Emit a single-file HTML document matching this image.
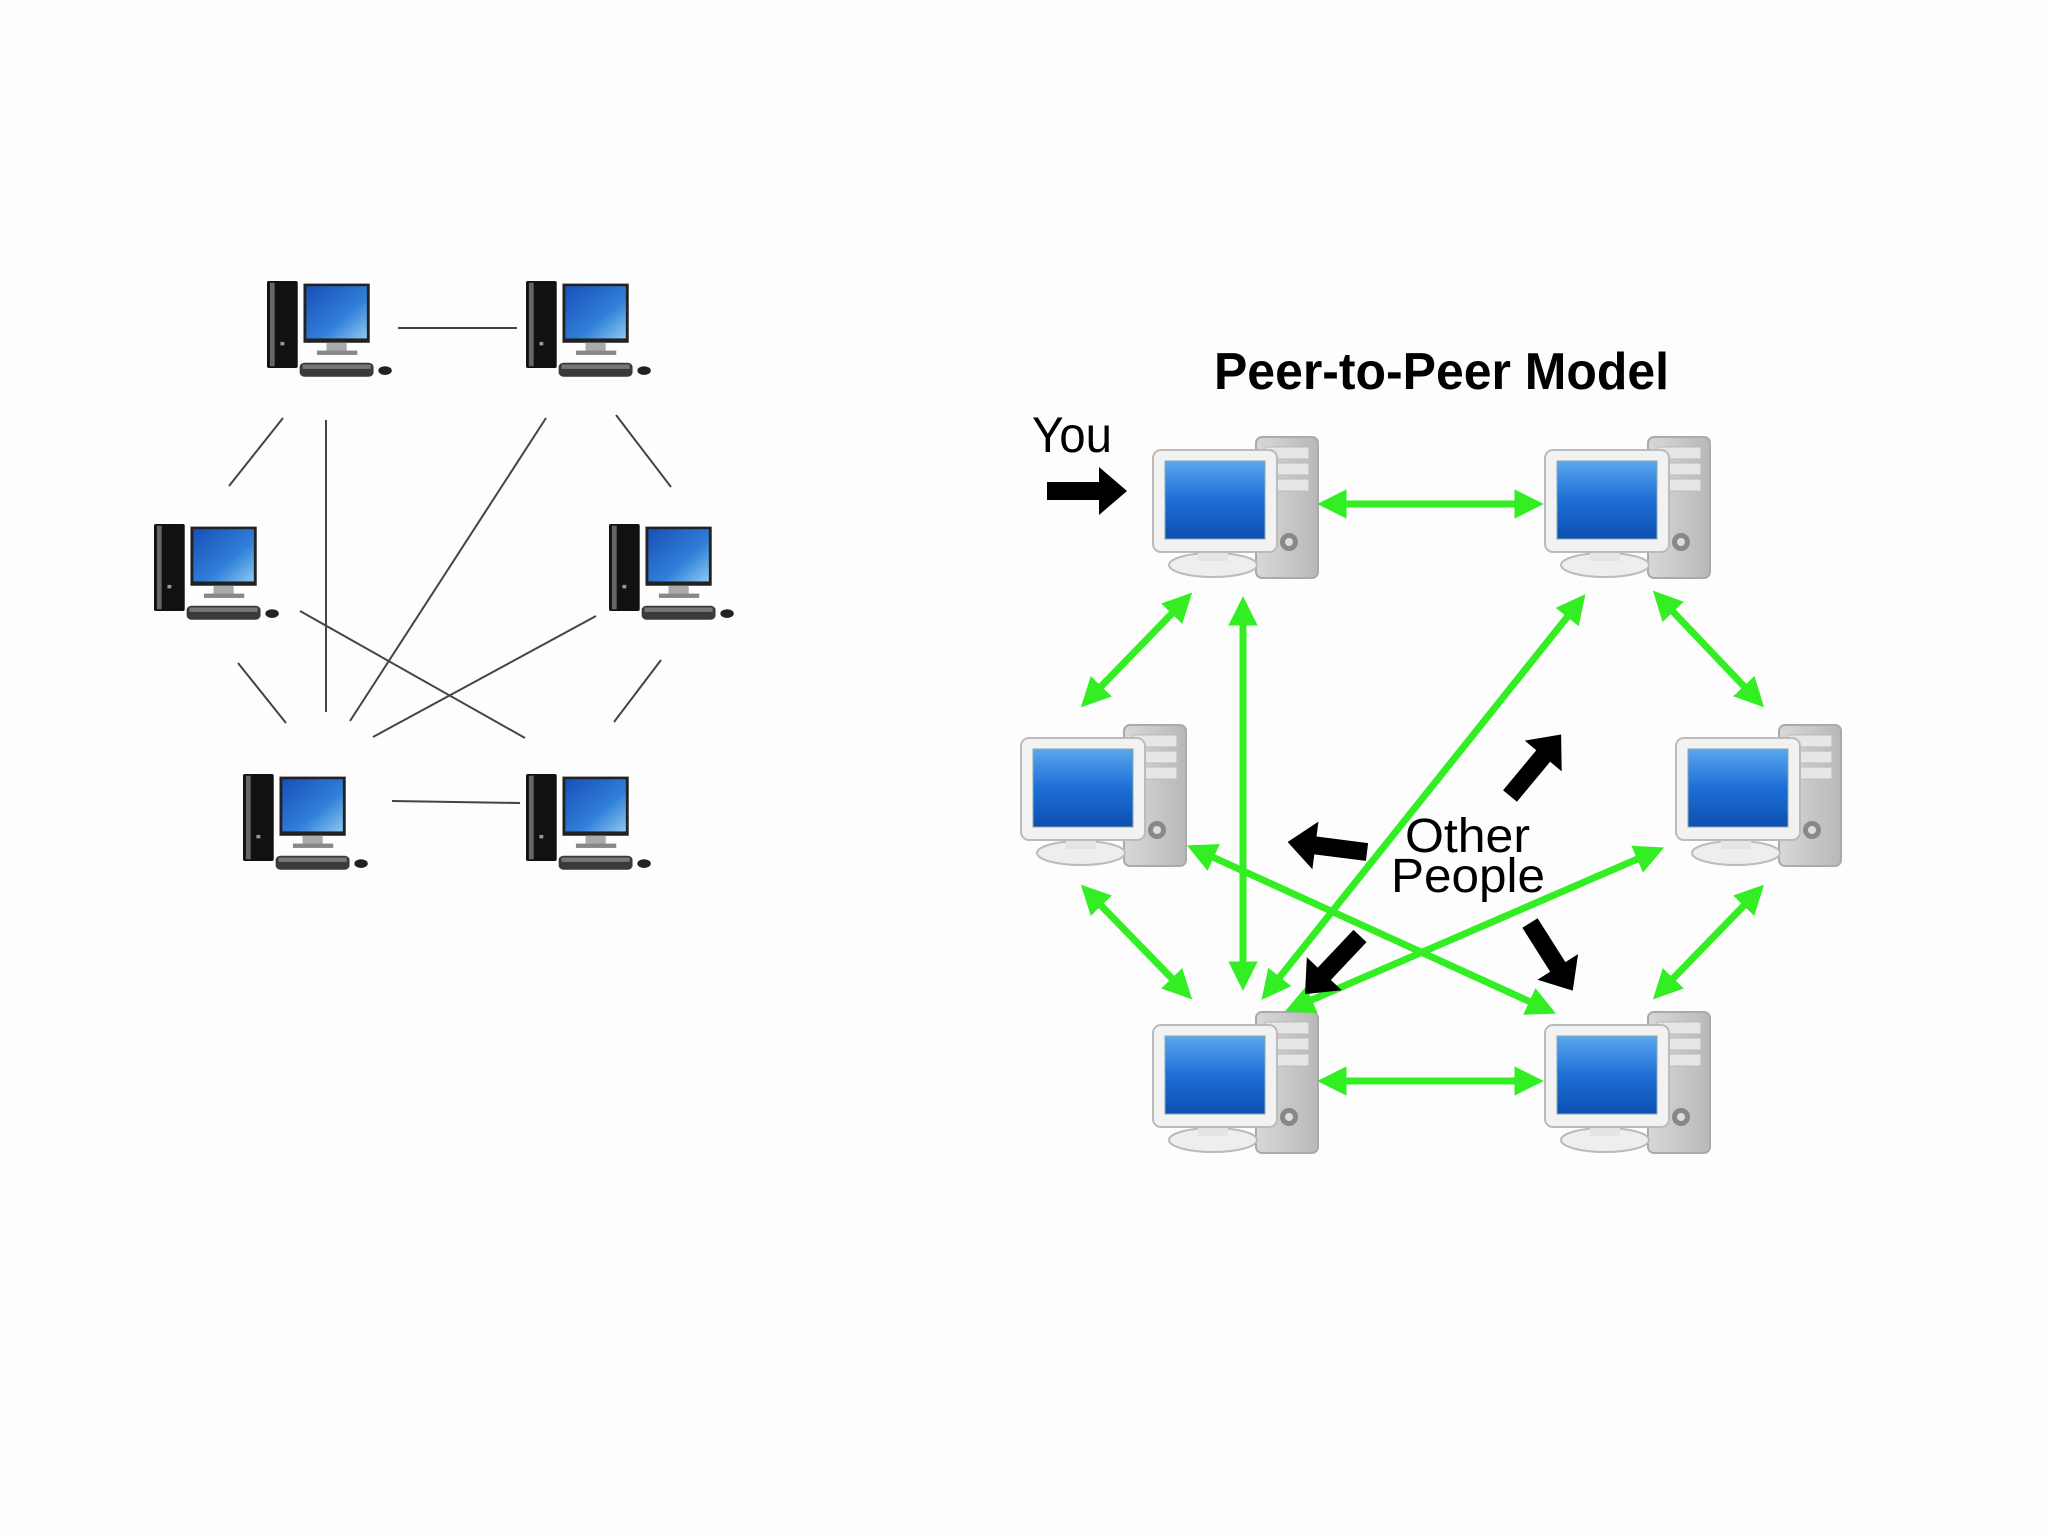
<!DOCTYPE html>
<html><head><meta charset="utf-8"><style>html,body{margin:0;padding:0;background:#fdfdfd}svg{display:block}</style></head>
<body>
<svg width="2048" height="1536" viewBox="0 0 2048 1536" xmlns="http://www.w3.org/2000/svg">
<defs>
<linearGradient id="scr" x1="0" y1="0" x2="1" y2="1"><stop offset="0" stop-color="#1a4fb8"/><stop offset="0.6" stop-color="#2f7fd8"/><stop offset="1" stop-color="#8cc8f0"/></linearGradient>
<linearGradient id="scr2" x1="0" y1="0" x2="0" y2="1"><stop offset="0" stop-color="#5aa6ee"/><stop offset="0.5" stop-color="#1e6fd6"/><stop offset="1" stop-color="#0d4fb0"/></linearGradient>
<linearGradient id="tw" x1="0" y1="0" x2="1" y2="0"><stop offset="0" stop-color="#d8d8d8"/><stop offset="1" stop-color="#b8b8b8"/></linearGradient>
<g id="pc1">
<g transform="scale(0.96,0.87)">
<rect x="0" y="0" width="32" height="100" rx="2" fill="#111"/>
<rect x="3" y="2" width="5" height="96" fill="#666"/>
<rect x="14" y="70" width="4" height="4" fill="#999"/>
<rect x="38" y="3" width="69" height="68" fill="#222"/>
<rect x="41" y="6" width="63" height="60" fill="url(#scr)"/>
<rect x="62" y="71" width="21" height="11" fill="#aaa"/>
<rect x="52" y="80" width="42" height="5" fill="#888"/>
<rect x="34" y="94" width="77" height="16" rx="5" fill="#3a3a3a"/>
<rect x="37" y="96" width="71" height="5" fill="#777"/>
<ellipse cx="123" cy="103" rx="7" ry="5" fill="#222"/>
</g>
</g>
<g id="pc2">
<rect x="103" y="0" width="62" height="141" rx="6" fill="url(#tw)" stroke="#aaa" stroke-width="2"/>
<rect x="112" y="10" width="44" height="12" fill="#e6e6e6" stroke="#bbb"/>
<rect x="112" y="26" width="44" height="12" fill="#e6e6e6" stroke="#bbb"/>
<rect x="112" y="42" width="44" height="12" fill="#e6e6e6" stroke="#bbb"/>
<circle cx="136" cy="105" r="9" fill="#888"/><circle cx="136" cy="105" r="4" fill="#ddd"/>
<ellipse cx="60" cy="128" rx="44" ry="12" fill="#eee" stroke="#bbb" stroke-width="2"/>
<rect x="45" y="110" width="30" height="14" fill="#e4e4e4"/>
<rect x="0" y="13" width="124" height="102" rx="8" fill="#f2f2f2" stroke="#bbb" stroke-width="2"/>
<rect x="12" y="24" width="100" height="78" fill="url(#scr2)" stroke="#8aa" stroke-width="1"/>
</g>
<g id="ba"><polygon points="0,-9 52,-9 52,-24 80,0 52,24 52,9 0,9" fill="#000"/></g>
<marker id="ah" viewBox="0 0 10 10" refX="7" refY="5" markerWidth="4.2" markerHeight="4.2" orient="auto-start-reverse"><path d="M0,0 L10,5 L0,10 z" fill="#33ee22"/></marker>
</defs>
<g stroke="#444" stroke-width="2">
<line x1="398" y1="328" x2="517" y2="328"/>
<line x1="283" y1="418" x2="229" y2="486"/>
<line x1="326" y1="420" x2="326" y2="712"/>
<line x1="546" y1="418" x2="350" y2="721"/>
<line x1="616" y1="415" x2="671" y2="487"/>
<line x1="300" y1="611" x2="525" y2="738"/>
<line x1="596" y1="616" x2="373" y2="737"/>
<line x1="238" y1="663" x2="286" y2="723"/>
<line x1="661" y1="660" x2="614" y2="722"/>
<line x1="392" y1="801" x2="520" y2="803"/>
</g>
<use href="#pc1" x="267" y="281"/>
<use href="#pc1" x="526" y="281"/>
<use href="#pc1" x="154" y="524"/>
<use href="#pc1" x="609" y="524"/>
<use href="#pc1" x="243" y="774"/>
<use href="#pc1" x="526" y="774"/>

<text x="1214" y="389" font-family="Liberation Sans, sans-serif" font-weight="bold" font-size="52" textLength="455" lengthAdjust="spacingAndGlyphs">Peer-to-Peer Model</text>
<text x="1032" y="452" font-family="Liberation Sans, sans-serif" font-size="50" textLength="80" lengthAdjust="spacingAndGlyphs">You</text>

<use href="#pc2" x="1153" y="437"/>
<use href="#pc2" x="1545" y="437"/>
<use href="#pc2" x="1021" y="725"/>
<use href="#pc2" x="1676" y="725"/>
<use href="#pc2" x="1153" y="1012"/>
<use href="#pc2" x="1545" y="1012"/>

<g stroke="#33ee22" stroke-width="7" marker-start="url(#ah)" marker-end="url(#ah)">
<line x1="1326" y1="504" x2="1535" y2="504"/>
<line x1="1186" y1="599" x2="1087" y2="701"/>
<line x1="1243" y1="605" x2="1243" y2="982"/>
<line x1="1580" y1="601" x2="1267" y2="993"/>
<line x1="1659" y1="597" x2="1758" y2="701"/>
<line x1="1087" y1="891" x2="1186" y2="993"/>
<line x1="1195" y1="849" x2="1548" y2="1010"/>
<line x1="1656" y1="851" x2="1293" y2="1008"/>
<line x1="1758" y1="891" x2="1659" y2="993"/>
<line x1="1326" y1="1081" x2="1535" y2="1081"/>
</g>

<use href="#ba" transform="translate(1047,491)"/>
<use href="#ba" transform="translate(1510,796) rotate(-50.3)"/>
<use href="#ba" transform="translate(1367,852) rotate(187.2)"/>
<use href="#ba" transform="translate(1360,936) rotate(133.4)"/>
<use href="#ba" transform="translate(1530,923) rotate(57.7)"/>

<text x="1405" y="852" font-family="Liberation Sans, sans-serif" font-size="48" textLength="125" lengthAdjust="spacingAndGlyphs">Other</text>
<text x="1391" y="892" font-family="Liberation Sans, sans-serif" font-size="48" textLength="154" lengthAdjust="spacingAndGlyphs">People</text>
</svg>
</body></html>
